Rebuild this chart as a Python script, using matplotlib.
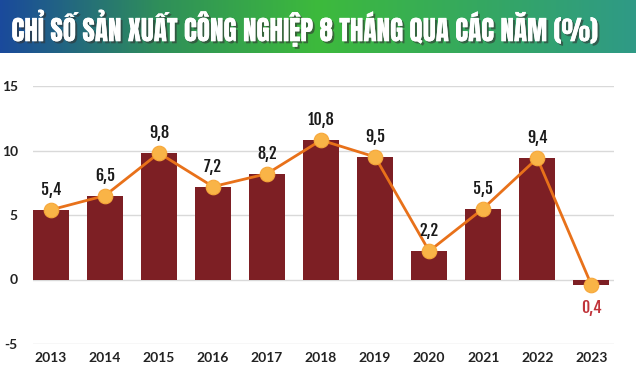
import numpy as np
import matplotlib
matplotlib.use("Agg")
import matplotlib.pyplot as plt
import matplotlib.patheffects as pe
from matplotlib.colors import LinearSegmentedColormap

years = ["2013", "2014", "2015", "2016", "2017", "2018", "2019", "2020", "2021", "2022", "2023"]
values = [5.4, 6.5, 9.8, 7.2, 8.2, 10.8, 9.5, 2.2, 5.5, 9.4, -0.4]
value_labels = ["5,4", "6,5", "9,8", "7,2", "8,2", "10,8", "9,5", "2,2", "5,5", "9,4", "0,4"]
yticks = [-5, 0, 5, 10, 15]
title = "CHỈ SỐ SẢN XUẤT CÔNG NGHIỆP 8 THÁNG QUA CÁC NĂM (%)"

TITLEF = ["Anton", "DejaVu Sans"]
COND = ["Fjalla One", "Oswald", "DejaVu Sans"]
TICK = ["Lato", "DejaVu Sans"]

W, H = 642, 377
fig = plt.figure(figsize=(W / 100, H / 100), dpi=100)
fig.patch.set_facecolor("white")

# Title banner with gradient
bax = fig.add_axes([0, 1 - 53 / H, 636 / W, 53 / H])
cmap = LinearSegmentedColormap.from_list("g", ["#1a4a9c", "#2f8f5a", "#3dba3c", "#35a860", "#2f9a86"])
grad = np.linspace(0, 1, 512).reshape(1, -1)
bax.imshow(grad, aspect="auto", cmap=cmap, extent=[0, 1, 0, 1])
bax.set_xlim(0, 1)
bax.set_ylim(0, 1)
bax.axis("off")
bax.text(0.48, 0.47, title, ha="center", va="center", color="white",
         fontsize=19.5, family=TITLEF,
         path_effects=[pe.withSimplePatchShadow(offset=(1.5, -1.5), shadow_rgbFace="#333333", alpha=0.6), pe.Normal()])

ax = fig.add_axes([33 / W, 33 / H, 581 / W, 258 / H])
x = np.arange(len(years))
ax.bar(x, values, width=0.67, color="#7d1f24", zorder=2)
ax.plot(x, values, color="#e8711a", lw=2, zorder=3)
ax.scatter(x, values, s=110, color="#f9b447", edgecolor="#f7a73a", lw=0.8, zorder=4)

for xi, v, lab in zip(x, values, value_labels):
    if v >= 0:
        ax.text(xi, v + 1.55, lab, ha="center", va="center", fontsize=11.5,
                color="#1a1a1a", family=COND)
    else:
        ax.text(xi, v - 1.8, lab, ha="center", va="center", fontsize=11.5,
                color="#c0343a", family=COND)

ax.set_ylim(-5, 15)
ax.set_xlim(-0.33, 10.42)
ax.set_yticks(yticks)
ax.set_yticklabels([str(t) for t in yticks])
ax.set_xticks(x)
ax.set_xticklabels(years)
ax.grid(axis="y", color="#d9d9d9", lw=1, zorder=0)
for s in ax.spines.values():
    s.set_visible(False)
ax.tick_params(axis="both", length=0, labelsize=10, labelcolor="#222222")
ax.tick_params(axis="y", pad=11)
ax.tick_params(axis="x", pad=6)
for t in ax.get_xticklabels() + ax.get_yticklabels():
    t.set_fontweight("bold")
    t.set_family(TICK)

fig.savefig("out.png", dpi=100)
